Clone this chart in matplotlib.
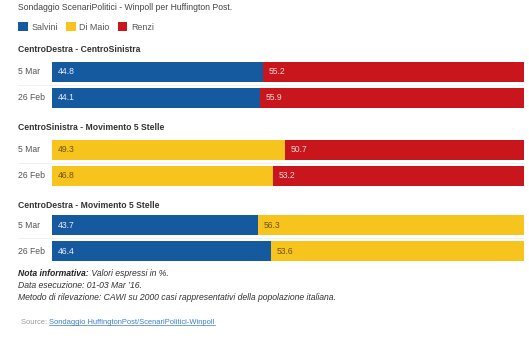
import matplotlib.pyplot as plt
from matplotlib.patches import Patch
from matplotlib.lines import Line2D

plt.rcParams['font.family'] = ['Liberation Sans', 'DejaVu Sans']

# ---- data ----
dates = ['5 Mar', '26 Feb']
groups = ['CentroDestra - CentroSinistra',
          'CentroSinistra - Movimento 5 Stelle',
          'CentroDestra - Movimento 5 Stelle']
left_who = ['Salvini', 'Di Maio', 'Salvini']
right_who = ['Renzi', 'Renzi', 'Di Maio']
left_vals = [[44.8, 44.1], [49.3, 46.8], [43.7, 46.4]]
right_vals = [[55.2, 55.9], [50.7, 53.2], [56.3, 53.6]]

COLORS = {'Salvini': '#15599f', 'Di Maio': '#f7c31d', 'Renzi': '#c9161c'}
TXT = {'Salvini': '#e8eef8', 'Di Maio': '#6e5410', 'Renzi': '#f3d6d6'}

W, H = 529, 343
fig = plt.figure(figsize=(W / 100, H / 100), dpi=100)
fig.patch.set_facecolor('white')

def fx(px):
    return px / W

def fy(py):
    return 1 - py / H

FS = 6.2

fig.text(fx(18), fy(8), 'Sondaggio ScenariPolitici - Winpoll per Huffington Post.',
         fontsize=FS, color='#444444', va='center', ha='left')

handles = [Patch(facecolor=COLORS[k], edgecolor='none', label=k)
           for k in ['Salvini', 'Di Maio', 'Renzi']]
leg = fig.legend(handles=handles, loc='center left', bbox_to_anchor=(fx(18), fy(27)),
                 ncol=3, frameon=False, fontsize=FS + 0.2, handlelength=1.1,
                 handleheight=1.1, handletextpad=0.4, columnspacing=0.9,
                 borderaxespad=0, borderpad=0)
for t in leg.get_texts():
    t.set_color('#555555')

header_y = [49, 128, 205]
axes_top = [59, 137, 212]
AX_LEFT, AX_RIGHT = 52, 524

for gi in range(3):
    fig.text(fx(18), fy(header_y[gi]), groups[gi], fontsize=FS, fontweight='bold',
             color='#333333', va='center', ha='left')
    ax = fig.add_axes([fx(AX_LEFT), fy(axes_top[gi] + 52), fx(AX_RIGHT - AX_LEFT), 52 / H])
    ax.set_xlim(0, 100)
    ax.set_ylim(1.5, -0.5)
    ax.axis('off')
    lv = left_vals[gi]
    rv = right_vals[gi]
    lc = left_who[gi]
    rc = right_who[gi]
    ax.barh(range(2), lv, height=0.74, color=COLORS[lc], edgecolor='none')
    ax.barh(range(2), rv, left=lv, height=0.74, color=COLORS[rc], edgecolor='none')
    for i in range(2):
        ax.text(1.2, i, f'{lv[i]:.1f}', fontsize=FS, color=TXT[lc], va='center', ha='left')
        ax.text(lv[i] + 1.2, i, f'{rv[i]:.1f}', fontsize=FS, color=TXT[rc], va='center',
                ha='left')
        ax.text(-7.2, i, dates[i], fontsize=FS, color='#555555', va='center', ha='left',
                clip_on=False)
    ax.add_line(Line2D([-7.2, 100], [0.5, 0.5], color='#eeeeee', lw=0.6, clip_on=False,
                       zorder=0))

# ---- notes ----
t1 = fig.text(fx(18), fy(276), 'Nota informativa:', fontsize=FS, fontweight='bold',
              fontstyle='italic', color='#222222', va='baseline', ha='left')
fig.add_artist(plt.Annotation(' Valori espressi in %.', xy=(1, 0), xycoords=t1,
                              fontsize=FS, fontstyle='italic', color='#333333',
                              va='bottom', ha='left'))
fig.text(fx(18), fy(288), 'Data esecuzione: 01-03 Mar \u201916.', fontsize=FS,
         fontstyle='italic', color='#333333', va='baseline', ha='left')
fig.text(fx(18), fy(300),
         'Metodo di rilevazione: CAWI su 2000 casi rappresentativi della popolazione italiana.',
         fontsize=FS, fontstyle='italic', color='#333333', va='baseline', ha='left')

s1 = fig.text(fx(21), fy(324), 'Source: ', fontsize=5.4, color='#999999',
              va='baseline', ha='left')
link = plt.Annotation('Sondaggio HuffingtonPost/ScenariPolitici-Winpoll', xy=(1, 0),
                      xycoords=s1, fontsize=5.4, color='#3b7fc4', va='bottom', ha='left')
fig.add_artist(link)

# underline the link
fig.canvas.draw()
bb = link.get_window_extent()
inv = fig.transFigure.inverted()
(x0, y0), (x1, _) = inv.transform([(bb.x0, bb.y0), (bb.x1, bb.y0)])
fig.add_artist(Line2D([x0, x1], [y0 + 0.004, y0 + 0.004], color='#3b7fc4', lw=0.5,
                      transform=fig.transFigure))

fig.savefig('out.png', dpi=100, facecolor='white')
